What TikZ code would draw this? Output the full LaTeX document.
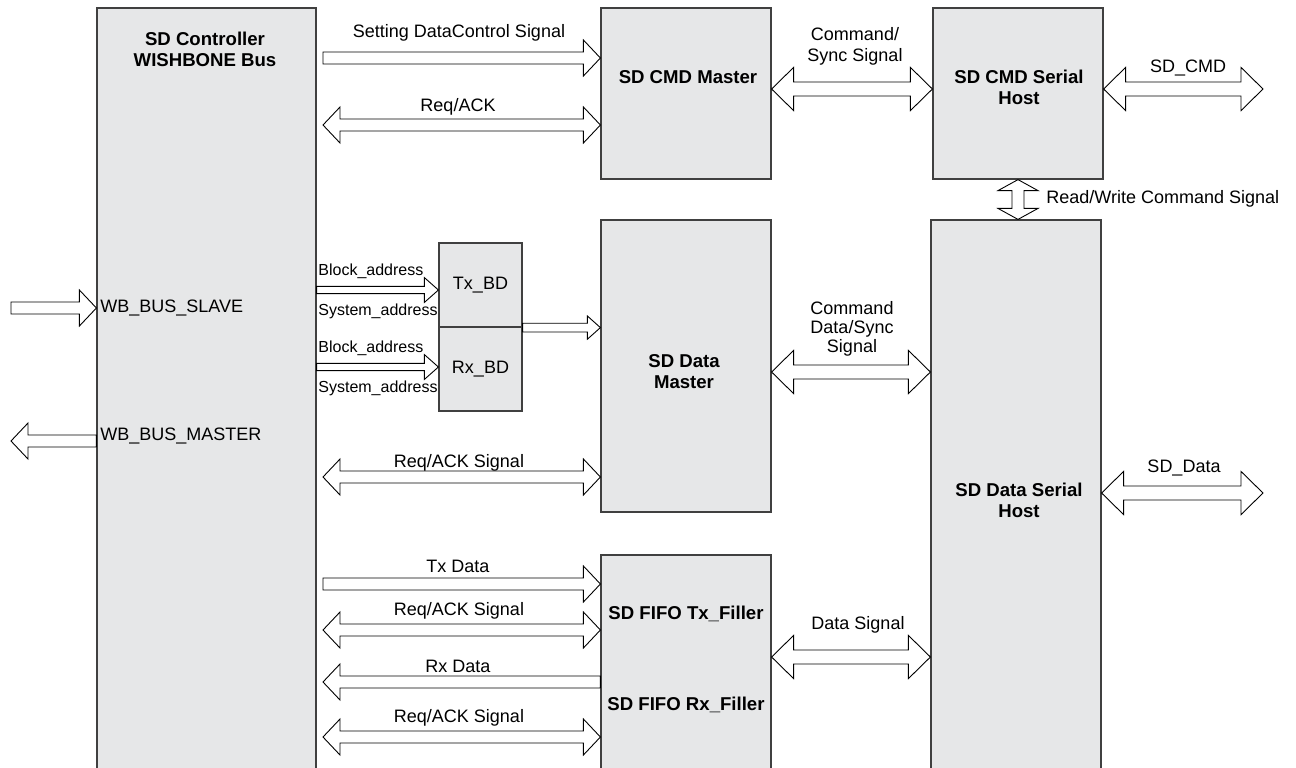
\documentclass[tikz,border=0pt]{standalone}
\usepackage{fontspec}
\setmainfont{Liberation Sans}
\usetikzlibrary{calc}
\definecolor{boxgray}{HTML}{E6E7E8}
\newcommand{\sgap}{0pt}
\newcommand{\egap}{0pt}
\newcommand{\shw}{3pt}
\newcommand{\hhw}{9pt}
\newcommand{\hlen}{8.5pt}
\tikzset{
  unit/.style={draw=black!75, fill=boxgray, line width=0.6pt, inner sep=0pt},
  sig/.style={draw=black, fill=white, line width=0.45pt},
  lbl/.style={font=\fontsize{9}{10.5}\selectfont, inner sep=0pt, align=center},
  ttl/.style={font=\fontsize{9.3}{10.5}\selectfont\bfseries, inner sep=0pt, align=center},
  addr/.style={font=\fontsize{8}{9}\selectfont, inner sep=0pt, anchor=west},
  bigarr/.code={\def\shw{3pt}\def\hhw{9pt}\def\hlen{8.5pt}},
  widearr/.code={\def\shw{3.5pt}\def\hhw{10.8pt}\def\hlen{11pt}},
  smallarr/.code={\def\shw{1.8pt}\def\hhw{6.2pt}\def\hlen{7pt}},
  bdarr/.code={\def\shw{2.2pt}\def\hhw{5.8pt}\def\hlen{6.5pt}},
  vertarr/.code={\def\shw{3pt}\def\hhw{10pt}\def\hlen{5.5pt}},
  gapstart/.code={\def\sgap{3.2pt}},
  gapend/.code={\def\egap{3.2pt}},
}
% hollow one-way signal arrow
\newcommand{\sigone}[3][]{%
  \begin{scope}[bigarr,#1]
  \path (#2) coordinate (p0) (#3) coordinate (q0);
  \path ($(p0)!\sgap!(q0)$) coordinate (pa) ($(q0)!\egap!(p0)$) coordinate (pe);
  \path ($(pe)!\hlen!(pa)$) coordinate (ph);
  \draw[sig] ($(pa)!\shw!90:(pe)$) -- ($(ph)!\shw!90:(pe)$) -- ($(ph)!\hhw!90:(pe)$) -- (pe)
    -- ($(ph)!\hhw!-90:(pe)$) -- ($(ph)!\shw!-90:(pe)$) -- ($(pa)!\shw!-90:(pe)$) -- cycle;
  \end{scope}}
% hollow two-way signal arrow
\newcommand{\sigtwo}[3][]{%
  \begin{scope}[bigarr,#1]
  \path (#2) coordinate (p0) (#3) coordinate (q0);
  \path ($(p0)!\sgap!(q0)$) coordinate (pa) ($(q0)!\egap!(p0)$) coordinate (pe);
  \path ($(pa)!\hlen!(pe)$) coordinate (h1) ($(pe)!\hlen!(pa)$) coordinate (h2);
  \draw[sig] (pa) -- ($(h1)!\hhw!90:(pe)$) -- ($(h1)!\shw!90:(pe)$) -- ($(h2)!\shw!90:(pe)$)
    -- ($(h2)!\hhw!90:(pe)$) -- (pe) -- ($(h2)!\hhw!-90:(pe)$) -- ($(h2)!\shw!-90:(pe)$)
    -- ($(h1)!\shw!-90:(pe)$) -- ($(h1)!\hhw!-90:(pe)$) -- cycle;
  \end{scope}}

\begin{document}
\begin{tikzpicture}[x=0.5pt, y=-0.5pt]
\useasboundingbox (0,0) rectangle (1296,767);

% blocks
\node[unit, minimum width=109.5pt, minimum height=382pt] (ctrl) at (206.5,390) {};
\node[unit, minimum width=85pt, minimum height=85.5pt] (cmdm) at (686,93.5) {};
\node[unit, minimum width=85pt, minimum height=85.5pt] (cmdh) at (1018,93.5) {};
\node[unit, minimum width=85pt, minimum height=146pt] (datm) at (686,366) {};
\node[unit, minimum width=85pt, minimum height=276pt] (dath) at (1016,496) {};
\node[unit, minimum width=85pt, minimum height=108.5pt] (fifo) at (686,663.5) {};
\node[unit, minimum width=41.5pt, minimum height=42pt, font=\fontsize{9}{10}\selectfont] (txbd) at (480.5,285) {Tx\_BD};
\node[unit, minimum width=41.5pt, minimum height=42pt, font=\fontsize{9}{10}\selectfont] (rxbd) at (480.5,369) {Rx\_BD};

% block titles
\node[ttl] (ctrlt) at (205,49) {SD Controller\\WISHBONE Bus};
\node[ttl] (cmdmt) at (688,77) {SD CMD Master};
\node[ttl] (cmdht) at (1019,87) {SD CMD Serial\\Host};
\node[ttl] (datmt) at (684,372) {SD Data\\Master};
\node[ttl] (datht) at (1019,500) {SD Data Serial\\Host};
\node[ttl] (fifotx) at (686,614) {SD FIFO Tx\_Filler};
\node[ttl] (fiforx) at (686,705) {SD FIFO Rx\_Filler};

% free ends
\coordinate (slavein) at (11,308);
\coordinate (masterout) at (11,441);
\coordinate (cmdout) at (1263,89);
\coordinate (dataout) at (1263,493);

% signals
\sigone[gapstart]{ctrl.east |- 0,58}{cmdm.west |- 0,58}
\sigtwo[gapstart]{ctrl.east |- 0,125}{cmdm.west |- 0,125}
\sigtwo[widearr]{cmdm.east |- 0,89}{cmdh.west |- 0,89}
\sigtwo[widearr]{cmdh.east |- 0,89}{cmdout}
\sigtwo[vertarr]{cmdh.south}{cmdh.south |- dath.north}
\sigone{slavein}{ctrl.west |- slavein}
\sigone{ctrl.west |- masterout}{masterout}
\sigone[smallarr]{ctrl.east |- 0,290}{txbd.west |- 0,290}
\sigone[smallarr]{ctrl.east |- 0,367}{rxbd.west |- 0,367}
\sigone[bdarr]{txbd.south east}{datm.west |- txbd.south east}
\sigtwo[widearr]{datm.east |- 0,372}{dath.west |- 0,372}
\sigtwo[gapstart]{ctrl.east |- 0,477}{datm.west |- 0,477}
\sigtwo[widearr]{dath.east |- dataout}{dataout}
\sigone[gapstart]{ctrl.east |- 0,584}{fifo.west |- 0,584}
\sigtwo[gapstart]{ctrl.east |- 0,630}{fifo.west |- 0,630}
\sigone[gapend]{fifo.west |- 0,682}{ctrl.east |- 0,682}
\sigtwo[gapstart]{ctrl.east |- 0,737}{fifo.west |- 0,737}
\sigtwo[widearr]{fifo.east |- 0,657}{dath.west |- 0,657}

% signal labels
\node[lbl] (l1) at (459,33) {Setting DataControl Signal};
\node[lbl] (l2) at (458,107) {Req/ACK};
\node[lbl] (l3) at (855,46) {Command/\\Sync Signal};
\node[lbl] (l4) at (1188,68) {SD\_CMD};
\node[lbl, anchor=west] (l5) at (1046,199) {Read/Write Command Signal};
\node[lbl, anchor=west] (l6) at (100,308) {WB\_BUS\_SLAVE};
\node[lbl, anchor=west] (l7) at (100,436) {WB\_BUS\_MASTER};
\node[addr] (a1) at (318,271) {Block\_address};
\node[addr] (a2) at (318,311) {System\_address};
\node[addr] (a3) at (318,348) {Block\_address};
\node[addr] (a4) at (318,388) {System\_address};
\node[lbl, font=\fontsize{9}{9.5}\selectfont] (l8) at (852,329) {Command\\Data/Sync\\Signal};
\node[lbl] (l9) at (459,463) {Req/ACK Signal};
\node[lbl] (l10) at (1184,468) {SD\_Data};
\node[lbl] (l11) at (458,566) {Tx Data};
\node[lbl] (l12) at (459,611) {Req/ACK Signal};
\node[lbl] (l13) at (858,625) {Data Signal};
\node[lbl] (l14) at (458,666) {Rx Data};
\node[lbl] (l15) at (459,718) {Req/ACK Signal};
\end{tikzpicture}
\end{document}
